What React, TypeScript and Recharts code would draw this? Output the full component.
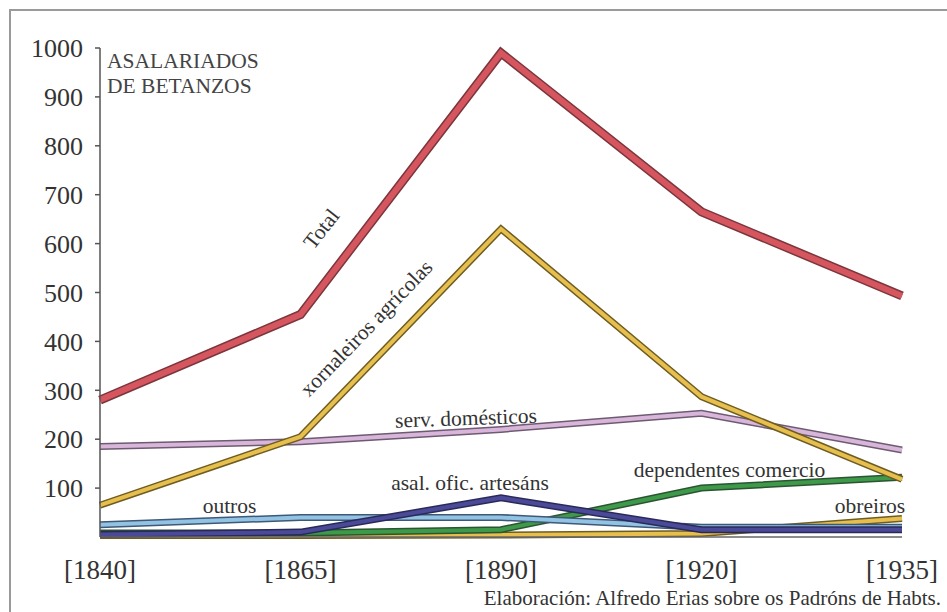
import React from 'react';
import { LineChart, Line, XAxis, YAxis, ReferenceDot } from 'recharts';

const years = ['[1840]', '[1865]', '[1890]', '[1920]', '[1935]'];
const total = [280, 455, 990, 665, 493];
const xornaleiros = [65, 205, 630, 287, 118];
const servDomesticos = [185, 195, 220, 253, 178];
const dependentes = [8, 8, 15, 100, 122];
const asalOfic = [5, 10, 80, 15, 15];
const outros = [25, 40, 40, 20, 20];
const obreiros = [3, 3, 4, 7, 38];
const yTicks = [100, 200, 300, 400, 500, 600, 700, 800, 900, 1000];

const data = years.map((year, i) => ({
  year,
  total: total[i],
  xornaleiros: xornaleiros[i],
  serv: servDomesticos[i],
  dependentes: dependentes[i],
  asal: asalOfic[i],
  outros: outros[i],
  obreiros: obreiros[i],
}));

const series = [
  { key: 'obreiros', fill: '#e6bf4e', edge: '#6e5c22', w: 7 },
  { key: 'dependentes', fill: '#3e9a4a', edge: '#2a5530', w: 7 },
  { key: 'outros', fill: '#93c3e3', edge: '#3e5878', w: 7 },
  { key: 'asal', fill: '#4a4a98', edge: '#2a2a58', w: 7 },
  { key: 'serv', fill: '#d8b6da', edge: '#6e5a72', w: 7 },
  { key: 'xornaleiros', fill: '#e6bf4e', edge: '#6e5c22', w: 7 },
  { key: 'total', fill: '#d6565f', edge: '#7a363c', w: 9 },
];

const labels = [
  { text: 'Total', x: '[1865]', y: 630, dx: 21, rot: -52 },
  { text: 'xornaleiros agrícolas', x: '[1865]', y: 427, dx: 66, rot: -46 },
  { text: 'serv. domésticos', x: '[1890]', y: 243, dx: -35, rot: -2 },
  { text: 'asal. ofic. artesáns', x: '[1890]', y: 110, dx: -31, rot: 0 },
  { text: 'dependentes comercio', x: '[1920]', y: 137, dx: 28, rot: 0 },
  { text: 'outros', x: '[1865]', y: 63, dx: -71, rot: 0 },
  { text: 'obreiros', x: '[1935]', y: 63, dx: -32, rot: 0 },
];

const FONT = '"Liberation Serif", "Times New Roman", serif';

export default function App() {
  return (
    <div style={{ position: 'absolute', left: 0, top: 0, width: 947, height: 612, background: '#fff', overflow: 'hidden' }}>
      <div
        style={{
          position: 'absolute',
          left: 9,
          top: 9,
          width: 960,
          height: 620,
          borderTop: '2px solid #9a9a9a',
          borderLeft: '2px solid #9a9a9a',
        }}
      />
      <div style={{ position: 'absolute', left: 0, top: 0 }}>
        <LineChart
          width={947}
          height={612}
          data={data}
          margin={{ top: 48, right: 45, bottom: 0, left: 0 }}
        >
          <XAxis
            dataKey="year"
            height={75}
            tickLine={false}
            tickSize={6}
            tickMargin={17}
            axisLine={{ stroke: '#666', strokeWidth: 1.5 }}
            tick={{ fill: '#333', fontSize: 27, fontFamily: FONT }}
            interval={0}
          />
          <YAxis
            width={100}
            domain={[0, 1000]}
            ticks={yTicks}
            tickSize={5}
            tickMargin={12}
            axisLine={{ stroke: '#555', strokeWidth: 1.5 }}
            tickLine={{ stroke: '#555', strokeWidth: 1.5 }}
            tick={{ fill: '#333', fontSize: 26, fontFamily: FONT }}
            interval={0}
          />
          {series.flatMap((s) => [
            <Line
              key={s.key + '-edge'}
              dataKey={s.key}
              stroke={s.edge}
              strokeWidth={s.w}
              strokeLinejoin="miter"
              strokeLinecap="butt"
              dot={false}
              activeDot={false}
              type="linear"
              isAnimationActive={false}
            />,
            <Line
              key={s.key + '-fill'}
              dataKey={s.key}
              stroke={s.fill}
              strokeWidth={s.w - 3}
              strokeLinejoin="miter"
              strokeLinecap="butt"
              dot={false}
              activeDot={false}
              type="linear"
              isAnimationActive={false}
            />,
          ])}
          {labels.map((l) => (
            <ReferenceDot
              key={l.text}
              x={l.x}
              y={l.y}
              r={0}
              shape={(p: any) => {
                const cx = p.cx + l.dx;
                const cy = p.cy;
                return (
                  <text
                    x={cx}
                    y={cy}
                    textAnchor="middle"
                    dominantBaseline="central"
                    style={{ fontFamily: FONT }}
                    fontSize={21.5}
                    fill="#333"
                    transform={`rotate(${l.rot} ${cx} ${cy})`}
                  >
                    {l.text}
                  </text>
                );
              }}
            />
          ))}
        </LineChart>
      </div>
      <div
        style={{
          position: 'absolute',
          left: 107,
          top: 49,
          fontFamily: FONT,
          fontSize: 21.5,
          lineHeight: '25px',
          color: '#444',
        }}
      >
        ASALARIADOS
        <br />
        DE BETANZOS
      </div>
      <div
        style={{
          position: 'absolute',
          right: 6,
          top: 588,
          fontFamily: FONT,
          fontSize: 21,
          lineHeight: '21px',
          color: '#333',
          whiteSpace: 'nowrap',
        }}
      >
        Elaboración: Alfredo Erias sobre os Padróns de Habts.
      </div>
    </div>
  );
}
